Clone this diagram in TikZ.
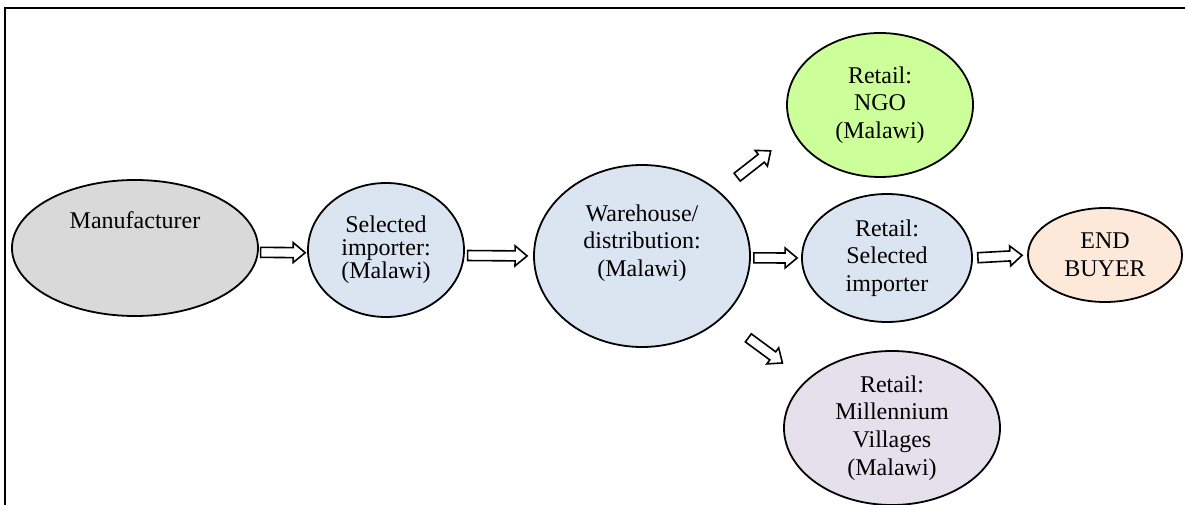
\documentclass[tikz,border=0pt]{standalone}
\usepackage{fontspec}
\setmainfont{Liberation Serif}
\usetikzlibrary{calc,shapes.geometric}

\definecolor{manugray}{HTML}{D9D9D9}
\definecolor{paleblue}{HTML}{DBE5F1}
\definecolor{ngogreen}{HTML}{CCFF99}
\definecolor{buyerpeach}{HTML}{FDE9D9}
\definecolor{villagelilac}{HTML}{E5E0EC}

\begin{document}
\begin{tikzpicture}[x=0.5bp,y=-0.5bp,font=\fontsize{12bp}{13.8bp}\selectfont,
    block arrow/.style 2 args={draw,fill=white,line width=0.8bp,line join=miter,
        to path={let \p1=($(\tikztostart)!#1!(\tikztotarget)$),
                     \p2=($(\tikztotarget)!#2!(\tikztostart)$),
                     \p3=($(\p2)!6bp!(\p1)$) in
            ($(\p1)!2.5bp!90:(\p2)$) -- ($(\p3)!2.5bp!-90:(\p1)$) -- ($(\p3)!5bp!-90:(\p1)$)
            -- (\p2) -- ($(\p3)!5bp!90:(\p1)$) -- ($(\p3)!2.5bp!90:(\p1)$)
            -- ($(\p1)!2.5bp!-90:(\p2)$) -- cycle}}]
\tikzset{bubble/.style={shape=ellipse,draw,line width=0.9bp,inner sep=0pt,align=center}}
%\tikzset{bubble/.style={shape=ellipse,draw,
%                        minimum width=2cm}}
\useasboundingbox (0,0) rectangle (1185,505);
\draw[line width=1.2bp] (1200,8) -- (5,8) -- (5,520);

% supply chain
\node[bubble,fill=manugray,minimum width=123bp,minimum height=68bp,
      label={[yshift=14bp]center:Manufacturer}] (manu) at (135,248) {};
\node[bubble,fill=paleblue,minimum width=78bp,minimum height=67bp,
      font=\fontsize{12bp}{11.5bp}\selectfont] (imp) at (386,250)
    {Selected\\importer:\\(Malawi)};
\node[bubble,fill=paleblue,minimum width=108bp,minimum height=91bp,
      label={[yshift=6.5bp,align=center]center:Warehouse/\\distribution:\\(Malawi)}] (wh) at (642,256) {};
\node[bubble,fill=ngogreen,minimum width=93bp,minimum height=72bp] (ngo) at (880,105)
    {Retail:\\NGO\\(Malawi)};
\node[bubble,fill=paleblue,minimum width=85bp,minimum height=64bp] (rs) at (887,258)
    {Retail:\\Selected\\importer};
\node[bubble,fill=buyerpeach,minimum width=77bp,minimum height=47bp] (eb) at (1105,255)
    {END\\BUYER};
\node[bubble,fill=villagelilac,minimum width=108bp,minimum height=77bp] (mill) at (892,428)
    {Retail:\\Millennium\\Villages\\(Malawi)};

% arrows
\draw[block arrow={1bp}{1bp}] (manu.-2) to (imp.182);
\draw[block arrow={1.5bp}{3bp}] (imp.-4) to (wh.180);
\draw[block arrow={11.4bp}{14.4bp}] (wh.40) to (ngo.198);
\draw[block arrow={1.5bp}{2bp}] (wh.-1) to (rs.180);
\draw[block arrow={16.4bp}{14.6bp}] (wh.-38) to (mill.151);
\draw[block arrow={2.5bp}{2.5bp}] (rs.0) to (eb.180);
\end{tikzpicture}
\end{document}
